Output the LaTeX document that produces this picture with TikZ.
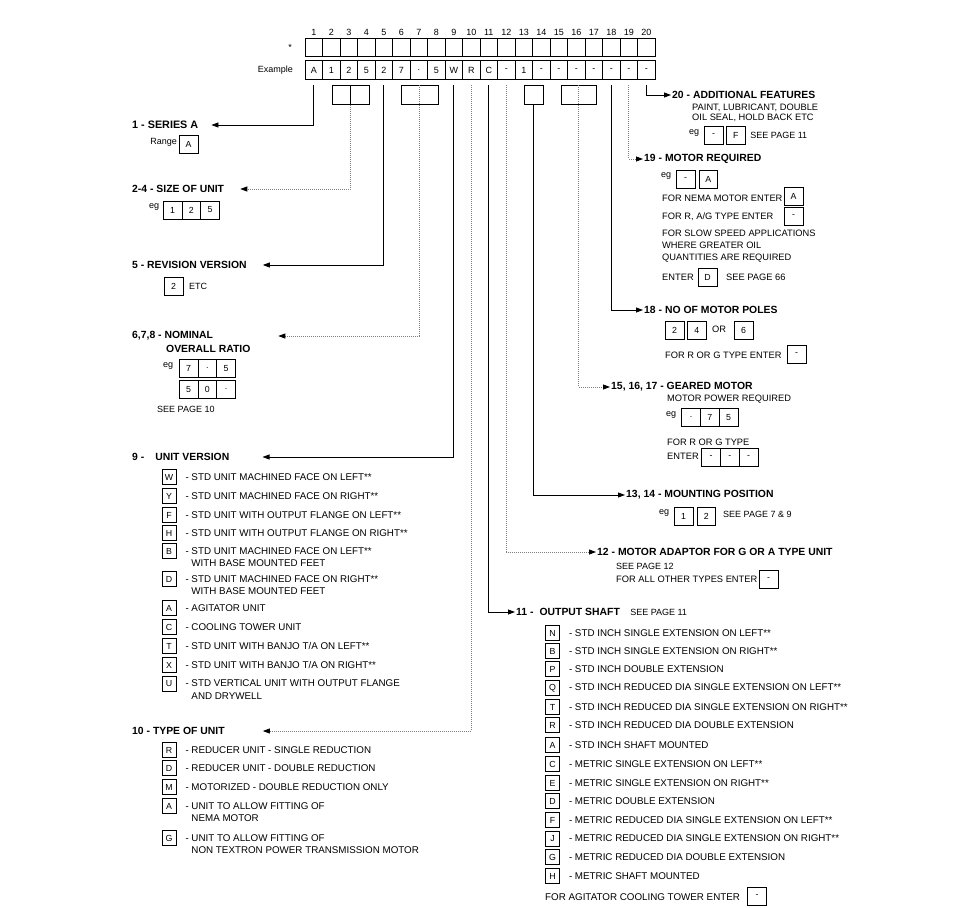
\documentclass[tikz,border=0pt]{standalone}
\usepackage{fontspec}
\setmainfont{Liberation Sans}
\usepackage{xcolor}
\usepackage{tikz}
\usetikzlibrary{arrows.meta,positioning}

\begin{document}
\begin{tikzpicture}[x=1pt, y=-1pt,
    every node/.style={inner sep=1pt, font=\fontsize{9.3}{12}\selectfont},
    cell/.style={draw, line width=0.6pt, minimum width=17.5pt, minimum height=18.5pt, inner sep=0pt, outer sep=0pt, font=\fontsize{9}{10}\selectfont},
    key/.style={draw, line width=0.6pt, minimum width=14pt, minimum height=15pt, inner sep=0pt, font=\fontsize{8.8}{10}\selectfont},
    ebox/.style={draw, line width=0.6pt, minimum width=18.8pt, minimum height=18pt, inner sep=0pt, outer sep=0pt, font=\fontsize{8.8}{10}\selectfont},
    head/.style={anchor=west, font=\bfseries\fontsize{10.4}{12}\selectfont},
    txt/.style={anchor=west, align=left, font=\fontsize{9.3}{12.5}\selectfont},
    item/.style={anchor=base west, font=\fontsize{9.8}{12.5}\selectfont},
    small/.style={anchor=west, font=\fontsize{9}{10}\selectfont},
    conn/.style={line width=0.8pt, -{Triangle[length=7pt,width=5pt]}},
    dconn/.style={line width=0.8pt, black!50, dash pattern=on 0.8pt off 1.2pt, -{Triangle[length=7pt,width=5pt,color=black]}}]

    \useasboundingbox (0,0) rectangle (960,907);

    % Code grid
    \node[small, anchor=center] (star) at (290,47) {*};
    \node[small, anchor=east] (exlbl) at (294,70) {Example};
    \foreach \v [count=\i] in {A,1,2,5,2,7,.,5,W,R,C,-,1,-,-,-,-,-,-,-} {
        \node[small, anchor=center] (n\i) at (296.25+17.5*\i,32) {\i};
        \node[cell] (s\i) at (296.25+17.5*\i,47.5) {};
        \node[cell] (e\i) at (296.25+17.5*\i,70) {\v};
    }

    % Group boxes under the grid
    \node[ebox, minimum width=18.5pt, minimum height=19.5pt] (p2a) at (341.25,95) {};
    \node[ebox, minimum width=18.5pt, minimum height=19.5pt] (p2b) at (359.75,95) {};
    \node[ebox, minimum width=37pt, minimum height=19.5pt] (p6) at (419.5,95) {};
    \node[ebox, minimum width=19pt, minimum height=19.5pt] (p13) at (533.5,95) {};
    \node[ebox, minimum width=35pt, minimum height=19.5pt] (p15) at (578.5,95) {};

    % 1 - Series
    \node[head, font=\bfseries\fontsize{10.8}{12}\selectfont] (h1) at (131,125) {1 - SERIES A};
    \node[small, anchor=east] (rng) at (178,142) {Range};
    \node[ebox] (r1) at (188.5,144) {A};

    % 2-4 - Size of unit
    \node[head] (h2) at (131,189) {2-4 - SIZE OF UNIT};
    \node[small] (eg2) at (148,207) {eg};
    \node[ebox] (z1) at (172.5,210) {1};
    \node[ebox, right=0pt of z1] (z2) {2};
    \node[ebox, right=0pt of z2] (z3) {5};

    % 5 - Revision version
    \node[head] (h5) at (131,265) {5 - REVISION VERSION};
    \node[ebox] (rv) at (173.5,286) {2};
    \node[small, right=5pt of rv] (etc) {ETC};

    % 6,7,8 - Nominal overall ratio
    \node[head] (h6) at (131,336) {6,7,8 - NOMINAL};
    \node[head] (h6b) at (165,349) {OVERALL RATIO};
    \node[small] (eg6) at (162,366) {eg};
    \node[ebox] (o1) at (188.5,368.5) {7};
    \node[ebox, right=0pt of o1] (o2) {.};
    \node[ebox, right=0pt of o2] (o3) {5};
    \node[ebox] (o4) at (188.5,389.5) {5};
    \node[ebox, right=0pt of o4] (o5) {0};
    \node[ebox, right=0pt of o5] (o6) {.};
    \node[small] (sp10) at (156,409) {SEE PAGE 10};

    % 9 - Unit version
    \node[head] (h9) at (131,457) {9 -\hspace{11pt}UNIT VERSION};
    \foreach \k/\y/\t in {W/477/{- STD UNIT MACHINED FACE ON LEFT**},
                         Y/496/{- STD UNIT MACHINED FACE ON RIGHT**},
                         F/515/{- STD UNIT WITH OUTPUT FLANGE ON LEFT**},
                         H/533/{- STD UNIT WITH OUTPUT FLANGE ON RIGHT**},
                         B/551/{- STD UNIT MACHINED FACE ON LEFT**\\\hphantom{- }WITH BASE MOUNTED FEET},
                         D/579/{- STD UNIT MACHINED FACE ON RIGHT**\\\hphantom{- }WITH BASE MOUNTED FEET},
                         A/608/{- AGITATOR UNIT},
                         C/627/{- COOLING TOWER UNIT},
                         T/646/{- STD UNIT WITH BANJO T/A ON LEFT**},
                         X/665/{- STD UNIT WITH BANJO T/A ON RIGHT**},
                         U/684/{- STD VERTICAL UNIT WITH OUTPUT FLANGE\\\hphantom{- }AND DRYWELL}} {
        \node[key] (v\k) at (169,\y) {\k};
        \node[item] (vt\k) at ([xshift=8pt]v\k.base east) {\begin{tabular}[t]{@{}l@{}}\t\end{tabular}};
    }

    % 10 - Type of unit
    \node[head] (h10) at (131,731) {10 - TYPE OF UNIT};
    \foreach \k/\y/\t in {R/750/{- REDUCER UNIT - SINGLE REDUCTION},
                         D/768/{- REDUCER UNIT - DOUBLE REDUCTION},
                         M/787/{- MOTORIZED - DOUBLE REDUCTION ONLY},
                         A/806/{- UNIT TO ALLOW FITTING OF\\\hphantom{- }NEMA MOTOR},
                         G/838/{- UNIT TO ALLOW FITTING OF\\\hphantom{- }NON TEXTRON POWER TRANSMISSION MOTOR}} {
        \node[key] (u\k) at (169,\y) {\k};
        \node[item] (ut\k) at ([xshift=8pt]u\k.base east) {\begin{tabular}[t]{@{}l@{}}\t\end{tabular}};
    }

    % 20 - Additional features
    \node[head] (h20) at (671,95) {20 - ADDITIONAL FEATURES};
    \node[txt, font=\fontsize{9.3}{10}\selectfont] (af) at (691,112.5) {PAINT, LUBRICANT, DOUBLE\\OIL SEAL, HOLD BACK ETC};
    \node[small] (eg20) at (688,133) {eg};
    \node[ebox] (a1) at (713.5,135) {-};
    \node[ebox, right=3.5pt of a1] (a2) {F};
    \node[small, right=4pt of a2] (sp11) {SEE PAGE 11};

    % 19 - Motor required
    \node[head] (h19) at (643,159) {19 - MOTOR REQUIRED};
    \node[small] (eg19) at (660,176) {eg};
    \node[ebox] (m1) at (685.5,179) {-};
    \node[ebox, right=4pt of m1] (m2) {A};
    \node[txt] (nema) at (661,198) {FOR NEMA MOTOR ENTER};
    \node[ebox] (m3) at (793.5,196.5) {A};
    \node[txt] (rag) at (661,217) {FOR R, A/G TYPE ENTER};
    \node[ebox] (m4) at (793.5,216.5) {-};
    \node[txt, font=\fontsize{9.3}{11.7}\selectfont] (slow) at (661,246) {FOR SLOW SPEED APPLICATIONS\\WHERE GREATER OIL\\QUANTITIES ARE REQUIRED};
    \node[txt] (ent19) at (661,277) {ENTER};
    \node[ebox] (m5) at (707.5,277) {D};
    \node[txt] (sp66) at (725,277) {SEE PAGE 66};

    % 18 - No of motor poles
    \node[head] (h18) at (643,310) {18 - NO OF MOTOR POLES};
    \node[ebox] (q1) at (674.5,330) {2};
    \node[ebox, right=3.5pt of q1] (q2) {4};
    \node[txt] (or) at (711,329) {OR};
    \node[ebox] (q3) at (743.5,330) {6};
    \node[txt] (rg18) at (664,355) {FOR R OR G TYPE ENTER};
    \node[ebox] (q4) at (796.5,354) {-};

    % 15, 16, 17 - Geared motor
    \node[head] (h15) at (610,387) {15, 16, 17 - GEARED MOTOR};
    \node[txt] (mp) at (666,399) {MOTOR POWER REQUIRED};
    \node[small] (eg15) at (665,415) {eg};
    \node[ebox] (g1) at (691,417.5) {.};
    \node[ebox, right=0pt of g1] (g2) {7};
    \node[ebox, right=0pt of g2] (g3) {5};
    \node[txt] (rg15) at (666,442) {FOR R OR G TYPE};
    \node[txt] (ent15) at (666,456) {ENTER};
    \node[ebox] (g4) at (711,457.5) {-};
    \node[ebox, right=0pt of g4] (g5) {-};
    \node[ebox, right=0pt of g5] (g6) {-};

    % 13, 14 - Mounting position
    \node[head] (h13) at (625,495) {13, 14 - MOUNTING POSITION};
    \node[small] (eg13) at (658,513) {eg};
    \node[ebox] (k1) at (683.5,516) {1};
    \node[ebox, right=4pt of k1] (k2) {2};
    \node[small] (sp79) at (722,514) {SEE PAGE 7 \& 9};

    % 12 - Motor adaptor
    \node[head] (h12) at (596,552) {12 - MOTOR ADAPTOR FOR G OR A TYPE UNIT};
    \node[small] (sp12) at (615,566) {SEE PAGE 12};
    \node[txt] (oth) at (615,579) {FOR ALL OTHER TYPES ENTER};
    \node[ebox] (j1) at (768.5,579) {-};

    % 11 - Output shaft
    \node[head] (h11) at (515,612) {11 -\hspace{6pt}OUTPUT SHAFT};
    \node[small, anchor=base west] (sp11b) at ([xshift=8pt]h11.base east) {SEE PAGE 11};
    \foreach \k/\y/\t in {N/633/{- STD INCH SINGLE EXTENSION ON LEFT**},
                         B/651/{- STD INCH SINGLE EXTENSION ON RIGHT**},
                         P/669/{- STD INCH DOUBLE EXTENSION},
                         Q/688/{- STD INCH REDUCED DIA SINGLE EXTENSION ON LEFT**},
                         T/707/{- STD INCH REDUCED DIA SINGLE EXTENSION ON RIGHT**},
                         R/725/{- STD INCH REDUCED DIA DOUBLE EXTENSION},
                         A/745/{- STD INCH SHAFT MOUNTED},
                         C/764/{- METRIC SINGLE EXTENSION ON LEFT**},
                         E/783/{- METRIC SINGLE EXTENSION ON RIGHT**},
                         D/801/{- METRIC DOUBLE EXTENSION},
                         F/820/{- METRIC REDUCED DIA SINGLE EXTENSION ON LEFT**},
                         J/839/{- METRIC REDUCED DIA SINGLE EXTENSION ON RIGHT**},
                         G/857/{- METRIC REDUCED DIA DOUBLE EXTENSION},
                         H/876/{- METRIC SHAFT MOUNTED}} {
        \node[key] (w\k) at (552.5,\y) {\k};
        \node[item] (wt\k) at ([xshift=8pt]w\k.base east) {\t};
    }
    \node[txt, font=\fontsize{9.8}{12}\selectfont] (agit) at (544,897) {FOR AGITATOR COOLING TOWER ENTER};
    \node[ebox] (w1) at (757,896) {-};

    % Arrows to the left
    \draw[conn] ([yshift=-6pt]e1.south) |- ([xshift=12pt]h1.east);
    \draw[dconn] (p2a.south east) |- ([xshift=15pt]h2.east);
    \draw[conn] ([yshift=-6pt]e5.south) |- ([xshift=15pt]h5.east);
    \draw[dconn] (p6.north) |- ([xshift=64pt]h6.east);
    \draw[conn] ([yshift=-6pt]e9.south) |- ([xshift=32pt]h9.east);
    \draw[dconn] ([yshift=-6pt]e10.south) |- ([xshift=37pt]h10.east);

    % Arrows to the right
    \draw[conn] ([yshift=-6pt]e11.south) |- (h11.west);
    \draw[dconn] ([yshift=-6pt]e12.south) |- (h12.west);
    \draw[conn] (p13.south) |- (h13.west);
    \draw[dconn] (p15.north) |- (h15.west);
    \draw[conn] ([yshift=-6pt]e18.south) |- (h18.west);
    \draw[dconn] ([yshift=-6pt]e19.south) |- (h19.west);
    \draw[conn] ([yshift=-6pt]e20.south) |- (h20.west);
\end{tikzpicture}
\end{document}
